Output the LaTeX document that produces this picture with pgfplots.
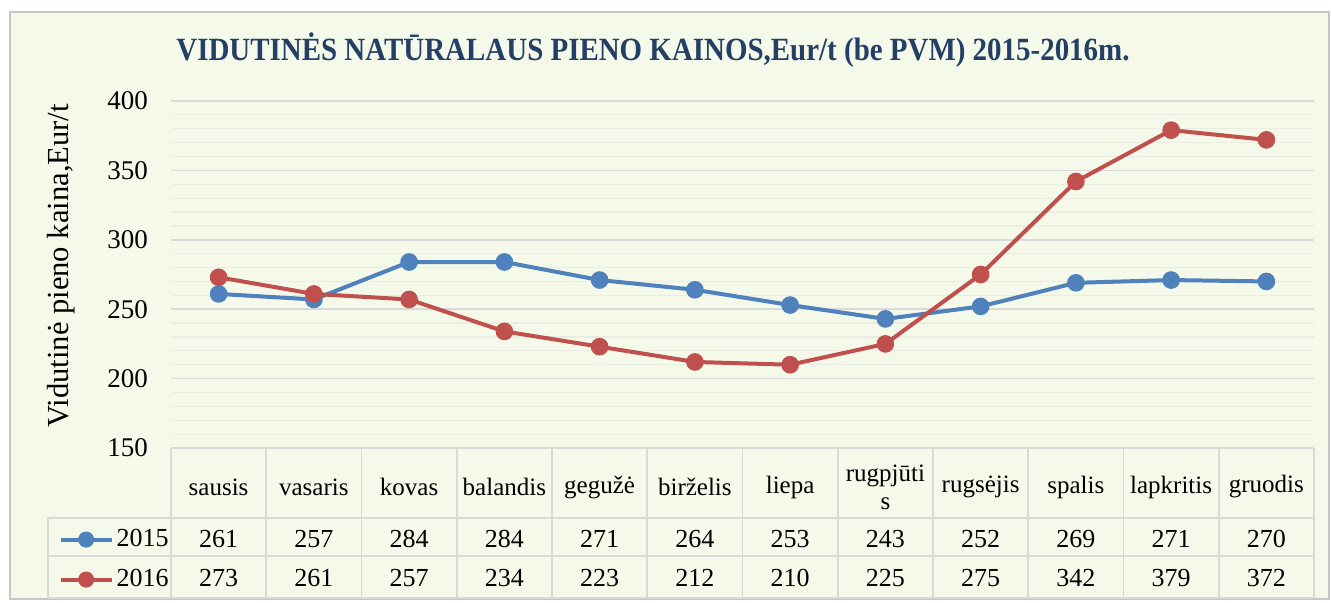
\documentclass[border=0pt]{standalone}
\usepackage{pgfplots}
\pgfplotsset{compat=1.18}
\usepackage{pgfplotstable}
\usepackage{fontspec}
\setmainfont{Liberation Serif}
\definecolor{bgc}{HTML}{F5F9E9}
\definecolor{s15}{HTML}{4F81BD}
\definecolor{s16}{HTML}{C0504D}
\definecolor{ttl}{HTML}{243F66}
\definecolor{grd}{HTML}{D9D9D9}
\definecolor{grdm}{HTML}{EAEDE2}

% average raw milk prices, Eur/t
\pgfplotstableread{
x y2015 y2016
0  261 273
1  257 261
2  284 257
3  284 234
4  271 223
5  264 212
6  253 210
7  243 225
8  252 275
9  269 342
10 271 379
11 270 372
}\prices

\begin{document}
\begin{tikzpicture}
\begin{scope}[x=0.5pt,y=-0.5pt]
  \fill[white] (0,0) rectangle (1331,603);
  \draw[fill=bgc, draw=gray!45, line width=1.2pt] (10,12) rectangle (1329,599);
  \node[font=\bfseries\fontsize{15}{17}\selectfont, text=ttl] at (653,50)
    {\scalebox{0.965}[1.08]{VIDUTINĖS NATŪRALAUS PIENO KAINOS,Eur/t (be PVM) 2015-2016m.}};
\end{scope}

\begin{axis}[
  at={(85.5pt,-224pt)}, anchor=south west,
  width=571.5pt, height=173.5pt, scale only axis,
  xmin=-0.5, xmax=11.5, ymin=150, ymax=400,
  xtick=\empty,
  ytick={150,200,...,400}, minor y tick num=4,
  ymajorgrids, yminorgrids,
  major grid style={draw=grd, line width=0.8pt},
  minor grid style={draw=grdm, line width=0.6pt},
  major tick length=0pt, minor tick length=0pt,
  axis line style={draw=none},
  /pgf/number format/assume math mode=true,
  yticklabel style={font=\fontsize{13.5}{14}\selectfont, xshift=-8pt},
  ylabel={Vidutinė pieno kaina,Eur/t},
  ylabel style={font=\fontsize{15.3}{16}\selectfont,
    at={(axis description cs:-0.096,0.525)}, anchor=center},
  clip=false,
  legend style={at={(axis description cs:-0.104,-0.205)}, anchor=north west,
    draw=none, fill=none, font=\fontsize{13}{14}\selectfont,
    nodes={text height=10pt, text depth=3pt, inner sep=1.5pt},
    row sep=4pt, column sep=0pt},
  legend cell align=left,
  legend image code/.code={
    \draw[mark repeat=2,mark phase=2, mark size=3pt] plot coordinates {(0cm,0cm)(0.45cm,0cm)(0.9cm,0cm)};},
]
\addplot[s15, line width=2pt, mark=*, mark size=3.4pt] table[x=x,y=y2015]{\prices};
\addlegendentry{2015}
\addplot[s16, line width=2pt, mark=*, mark size=3.4pt] table[x=x,y=y2016]{\prices};
\addlegendentry{2016}
\end{axis}

\begin{scope}[x=0.5pt,y=-0.5pt]
  % data table grid
  \foreach \k in {0,...,12} {
    \draw[grd, line width=0.8pt] (171+95.25*\k,448) -- (171+95.25*\k,598);
  }
  \foreach \yy in {518,556,598} {
    \draw[grd, line width=0.8pt] (48,\yy) -- (1314,\yy);
  }
  \draw[grd, line width=0.8pt] (48,518) -- (48,598);
  % category names
  \foreach \i/\name in {0/sausis,1/vasaris,2/kovas,3/balandis,4/gegužė,5/birželis,
      6/liepa,7/{rugpjūti\\s},8/rugsėjis,9/spalis,10/lapkritis,11/gruodis} {
    \node[font=\fontsize{12.5}{14}\selectfont, align=center] at (218.6+95.25*\i,487) {\name};
  }
  % values
  \foreach \i in {0,...,11} {
    \pgfplotstablegetelem{\i}{y2015}\of\prices
    \node[font=\fontsize{13}{14}\selectfont] at (218.6+95.25*\i,539) {\pgfplotsretval};
    \pgfplotstablegetelem{\i}{y2016}\of\prices
    \node[font=\fontsize{13}{14}\selectfont] at (218.6+95.25*\i,578) {\pgfplotsretval};
  }
\end{scope}
\end{tikzpicture}
\end{document}
